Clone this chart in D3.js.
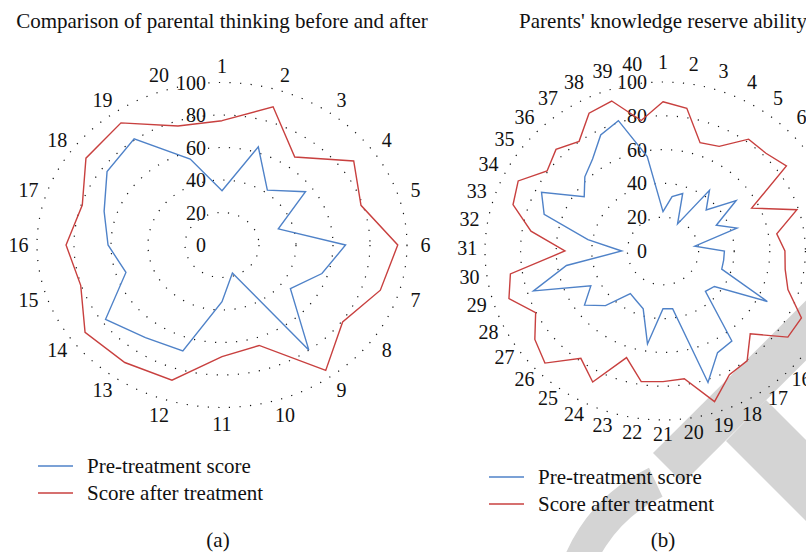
<!DOCTYPE html>
<html>
<head>
<meta charset="utf-8">
<script src="https://cdn.jsdelivr.net/npm/d3@7"></script>
<style>
  body { margin: 0; background: #fff; }
  svg { display: block; font-family: "Liberation Serif", "Times New Roman", serif; }
</style>
</head>
<body>
<svg id="chart"></svg>
<script>
const width = 806;
const height = 552;

// **************************** DATA ****************************
// (a) parental thinking, 20 items
const itemsA = ["1", "2", "3", "4", "5", "6", "7", "8", "9", "10",
  "11", "12", "13", "14", "15", "16", "17", "18", "19", "20"];
const preA = [33.4, 63.5, 41.7, 55.8, 32.0, 66.8, 56.8, 45.7, 79.8, 18.2,
  34.9, 68.5, 70.4, 77.8, 54.6, 61.6, 67.0, 76.8, 80.8, 55.6];
const postA = [76.5, 89.4, 66.9, 88.0, 79.0, 95.0, 90.0, 80.6, 95.4, 65.0,
  68.7, 87.5, 89.4, 91.5, 80.3, 84.3, 79.4, 90.9, 92.9, 77.0];

// (b) knowledge reserve ability, 40 items
const itemsB = ["1", "2", "3", "4", "5", "6", "7", "8", "9", "10",
  "11", "12", "13", "14", "15", "16", "17", "18", "19", "20",
  "21", "22", "23", "24", "25", "26", "27", "28", "29", "30",
  "31", "32", "33", "34", "35", "36", "37", "38", "39", "40"];
const preB = [23.3, 32.6, 35.8, 18.0, 44.4, 34.3, 50.8, 33.6, 43.7, 18.1,
  34.5, 34.5, 34.7, 65.8, 35.7, 33.7, 65.8, 67.5, 81.8, 34.6,
  34.1, 55.7, 36.0, 33.0, 31.2, 45.7, 54.5, 45.5, 76.5, 54.9,
  23.2, 42.7, 70.2, 76.6, 54.7, 62.1, 67.3, 77.1, 81.1, 56.6];
const postB = [88.3, 85.5, 67.4, 69.5, 81.8, 81.8, 85.7, 55.9, 79.1, 64.7,
  68.5, 69.5, 73.8, 87.3, 86.7, 69.3, 80.4, 82.2, 93.7, 76.5,
  77.3, 78.2, 66.3, 87.0, 78.5, 93.8, 89.0, 80.3, 91.0, 86.8,
  55.1, 75.1, 88.6, 91.3, 80.5, 85.0, 80.2, 91.5, 93.3, 78.2];

const rTicks = [0, 20, 40, 60, 80, 100];
const seriesNames = ["Pre-treatment score", "Score after treatment"];
const seriesColors = ["#4f82c8", "#c8403f"];

const svg = d3.select("#chart")
  .attr("width", width)
  .attr("height", height)
  .attr("viewBox", [0, 0, width, height]);

// grey watermark shape in the lower right corner (drawn first, under the chart)
const mark = svg.append("g").attr("fill", "#d4d4d4");
mark.append("polygon")
  .attr("points", [[653, 453], [683, 483], [900, 267], [900, 207]].join(" "));
mark.append("polygon")
  .attr("points", [[726, 441], [766, 400], [900, 534], [900, 615]].join(" "));
mark.append("path")
  .attr("transform", "translate(720,620)")
  .attr("d", d3.arc()({
    innerRadius: 136,
    outerRadius: 168,
    startAngle: 250 * Math.PI / 180,
    endAngle: 335 * Math.PI / 180
  }));

// **************************** RADAR ****************************
function drawRadar(cfg) {
  const {cx, cy, rx, ry, items, series} = cfg;
  const g = svg.append("g");

  // separate horizontal / vertical radius scales (the plots are a bit stretched)
  const xr = d3.scaleLinear([0, 100], [0, rx]);
  const yr = d3.scaleLinear([0, 100], [0, ry]);
  const angle = d3.scaleLinear([0, items.length], [0, 2 * Math.PI]);
  const pos = (v, i) => [
    cx + xr(v) * Math.sin(angle(i)),
    cy - yr(v) * Math.cos(angle(i))
  ];

  // dotted rings
  g.append("g")
    .attr("fill", "none")
    .attr("stroke", "#111")
    .attr("stroke-width", 1.2)
    .attr("stroke-dasharray", "1.2 9.4")
    .selectAll("ellipse")
    .data(rTicks.slice(1))
    .join("ellipse")
    .attr("cx", cx)
    .attr("cy", cy)
    .attr("rx", d => xr(d))
    .attr("ry", d => yr(d));

  // radial tick labels
  g.append("g")
    .attr("font-size", 20)
    .attr("text-anchor", "end")
    .attr("fill", "#111")
    .selectAll("text")
    .data(rTicks)
    .join("text")
    .attr("x", cx - 16)
    .attr("y", d => cy - yr(d))
    .attr("dy", "0.35em")
    .text(d => d);

  // item labels around the rim
  g.append("g")
    .attr("font-size", 20)
    .attr("text-anchor", "middle")
    .attr("fill", "#111")
    .selectAll("text")
    .data(items)
    .join("text")
    .attr("x", (d, i) => pos(110, i)[0])
    .attr("y", (d, i) => pos(110, i)[1] + cfg.labelShift)
    .attr("dy", "0.35em")
    .text(d => d);

  // series polygons
  const line = d3.line().curve(d3.curveLinearClosed);
  series.forEach((values, k) => {
    g.append("path")
      .attr("fill", "none")
      .attr("stroke", seriesColors[k])
      .attr("stroke-width", 1.4)
      .attr("stroke-linejoin", "miter")
      .attr("d", line(values.map((v, i) => pos(v, i))));
  });

  // title
  g.append("text")
    .attr("x", cx)
    .attr("y", 28)
    .attr("text-anchor", "middle")
    .attr("font-size", 21)
    .attr("fill", "#111")
    .text(cfg.title);

  // legend
  const legend = g.append("g")
    .selectAll("g")
    .data(seriesNames)
    .join("g")
    .attr("transform", (d, i) => `translate(${cfg.legendX},${cfg.legendY + i * 27})`);
  legend.append("line")
    .attr("x1", 0)
    .attr("x2", 35)
    .attr("stroke", (d, i) => seriesColors[i])
    .attr("stroke-width", 1.4);
  legend.append("text")
    .attr("x", 49)
    .attr("dy", "0.33em")
    .attr("font-size", 21)
    .attr("fill", "#111")
    .text(d => d);

  // caption
  g.append("text")
    .attr("x", cfg.captionX)
    .attr("y", 547)
    .attr("text-anchor", "middle")
    .attr("font-size", 21)
    .attr("fill", "#111")
    .text(cfg.caption);
}

drawRadar({
  cx: 222, cy: 245, rx: 185, ry: 162.5,
  items: itemsA, series: [preA, postA], labelShift: 0,
  title: "Comparison of parental thinking before and after",
  legendX: 38, legendY: 466, caption: "(a)", captionX: 218
});

drawRadar({
  cx: 663, cy: 251, rx: 178, ry: 169,
  items: itemsB, series: [preB, postB], labelShift: -3,
  title: "Parents' knowledge reserve ability",
  legendX: 489, legendY: 477, caption: "(b)", captionX: 663
});
</script>
</body>
</html>
